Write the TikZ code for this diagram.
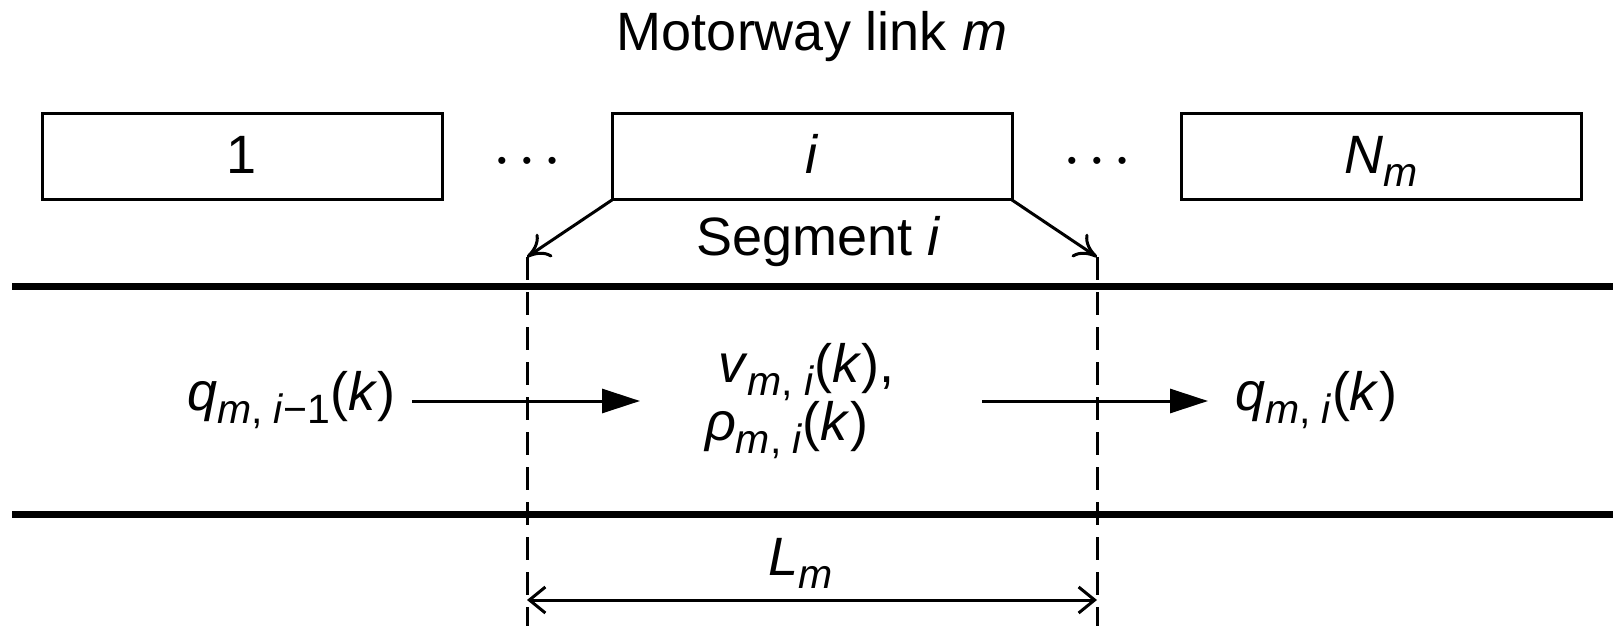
\documentclass[tikz,border=0pt]{standalone}
\usepackage{fontspec}
\setmainfont{Liberation Sans}
\usetikzlibrary{arrows.meta}
\newcommand\sbs[1]{\raisebox{-6.5pt}{\fontsize{20.5pt}{22pt}\selectfont #1}}
\newcommand\threedots{•\hspace{8pt}•\hspace{8pt}•}
\begin{document}
\begin{tikzpicture}[x=0.5pt,y=-0.5pt,
  txt/.style={font=\fontsize{27pt}{32pt}\selectfont, inner sep=0pt, outer sep=0pt},
  segbox/.style={draw, line width=1.5pt, minimum width=200pt, minimum height=43pt,
    inner sep=0pt, outer sep=0pt, text height=17pt, text depth=0pt,
    font=\fontsize{27pt}{32pt}\selectfont},
  dotsnode/.style={inner sep=0pt, outer sep=0pt, font=\fontsize{13pt}{14pt}\selectfont},
  road/.style={line width=3.5pt},
  bound/.style={line width=1.5pt, dash pattern=on 11.5pt off 6pt},
  segarrow/.style={line width=1.5pt, -{Computer Modern Rightarrow[length=11pt,width=14pt]}},
  flow/.style={line width=1.5pt, -{Triangle[length=19pt,width=12pt]}},
  dim/.style={line width=1.5pt, {Straight Barb[length=8pt,width=13pt]}-{Straight Barb[length=8pt,width=13pt]}}]
\useasboundingbox (0,0) rectangle (1613,626);
% title
\node[txt, anchor=base] (title) at (812,51) {Motorway link \textit{m}};
% segment boxes
\node[segbox] (b1) at (242,157) {1};
\node[segbox] (bi) at (812,157) {\textit{i}};
\node[segbox] (bN) at (1381,157) {\textit{N}\sbs{\textit{m}}};
\node[dotsnode] (d1) at (527,163) {\threedots};
\node[dotsnode] (d2) at (1097,163) {\threedots};
% segment boundaries
\coordinate (sl) at (527,257);
\coordinate (sr) at (1097,257);
\coordinate (slb) at (527,626);
\coordinate (srb) at (1097,626);
\draw[segarrow] (bi.south west) -- (sl);
\draw[segarrow] (bi.south east) -- (sr);
\node[txt, anchor=base] (seg) at (819,256) {Segment \textit{i}};
% road
\coordinate (r1a) at (12,286);
\coordinate (r1b) at (1613,286);
\coordinate (r2a) at (12,514);
\coordinate (r2b) at (1613,514);
\draw[road] (r1a) -- (r1b);
\draw[road] (r2a) -- (r2b);
\draw[bound] (sl) -- (slb);
\draw[bound] (sr) -- (srb);
% flows
\node[txt, anchor=base west] (qin) at (187,410) {\textit{q}\sbs{\textit{m}, \textit{i}−1}(\textit{k})};
\node[txt, anchor=base west] (v) at (718,382) {\textit{v}\sbs{\textit{m}, \textit{i}}(\textit{k}),};
\node[txt, anchor=base west] (rho) at (705,440) {\textit{ρ}\sbs{\textit{m}, \textit{i}}(\textit{k})};
\node[txt, anchor=base west] (qout) at (1235,410) {\textit{q}\sbs{\textit{m}, \textit{i}}(\textit{k})};
\coordinate (a1s) at (412,401);
\coordinate (a1e) at (640,401);
\coordinate (a2s) at (982,401);
\coordinate (a2e) at (1208,401);
\draw[flow] (a1s) -- (a1e);
\draw[flow] (a2s) -- (a2e);
% length
\coordinate (ll) at (527,600);
\coordinate (lr) at (1097,600);
\draw[dim] (ll) -- (lr);
\node[txt, anchor=base west] (L) at (768,575) {\textit{L}\sbs{\textit{m}}};
\end{tikzpicture}
\end{document}
